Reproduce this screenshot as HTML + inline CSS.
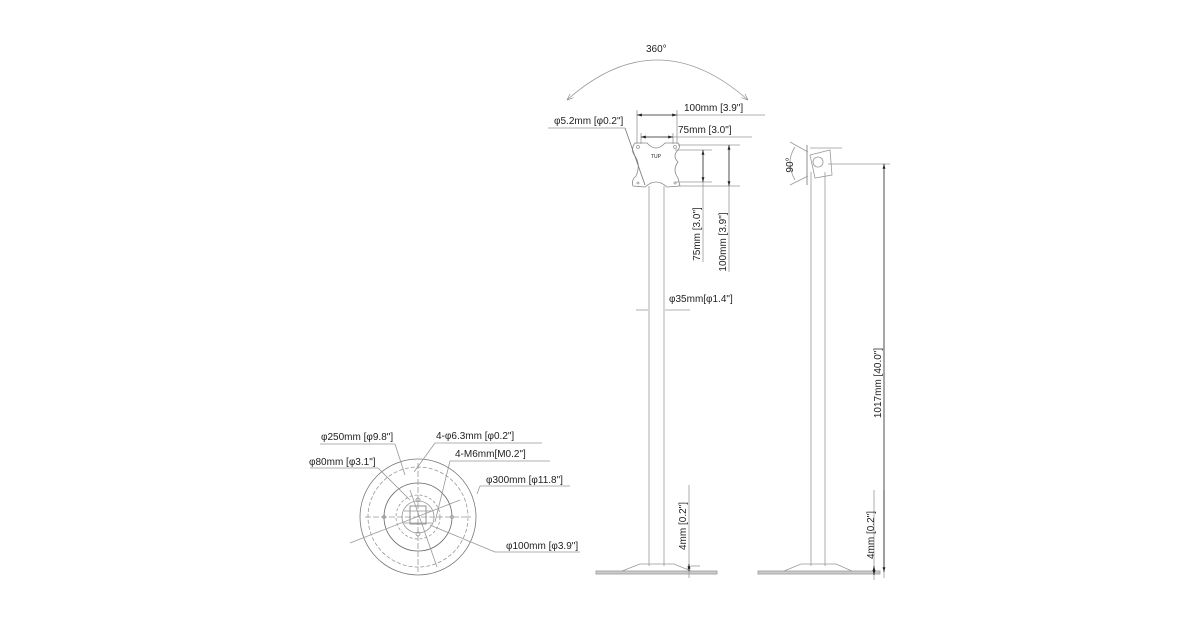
<!DOCTYPE html>
<html><head><meta charset="utf-8"><style>
html,body{margin:0;padding:0;background:#fff;width:1200px;height:630px;overflow:hidden}
svg{display:block}
text{font-family:"Liberation Sans",sans-serif;font-size:10px;fill:#222}
</style></head><body>
<svg width="1200" height="630" viewBox="0 0 1200 630">
<defs>
<marker id="a" viewBox="0 0 10 10" refX="10" refY="5" markerWidth="6" markerHeight="6" orient="auto-start-reverse"><path d="M0,2 L10,5 L0,8z" fill="#222"/></marker>
<marker id="o" viewBox="0 0 10 10" refX="10" refY="5" markerWidth="8" markerHeight="8" orient="auto-start-reverse"><path d="M0,1 L10,5 L0,9" fill="none" stroke="#888"/></marker>
</defs>
<g fill="none" stroke="#999" stroke-width="0.8">
<!-- 360 arc -->
<path d="M567,100 Q657,20 748,100" stroke="#999" marker-start="url(#o)" marker-end="url(#o)"/>
<!-- front view pole -->
<line x1="649" y1="186" x2="649" y2="566"/>
<line x1="664" y1="186" x2="664" y2="566"/>
<!-- base -->
<rect x="596" y="571" width="121" height="3" fill="#ccc" stroke="#999"/>
<path d="M622,571 L640,564 L674,564 L691,571"/>
<!-- vesa plate -->
<path d="M635,143 L647,143 Q656,153 665,143 L678,143 Q681,146 678,150 Q672,156 678,162 Q672,170 678,178 L680,186 L667,187 Q656,177 645,187 L633,186 Q631,180 636,176 Q641,165 635,156 Q630,150 635,143z" stroke="#888"/>
<circle cx="638" cy="147" r="1.5"/><circle cx="675" cy="147" r="1.5"/>
<circle cx="638" cy="183" r="1"/><circle cx="675" cy="183" r="1"/>
<!-- horizontal dims -->
<line x1="637" y1="110" x2="637" y2="144"/><line x1="677" y1="110" x2="677" y2="144"/>
<line x1="641" y1="133" x2="641" y2="144"/><line x1="673" y1="133" x2="673" y2="144"/>
<line x1="677" y1="115" x2="765" y2="115"/>
<line x1="673" y1="137" x2="752" y2="137"/>
<line x1="548" y1="128" x2="625" y2="128"/>
<line x1="625" y1="128" x2="645" y2="185" stroke="#777"/>
<!-- vertical extensions -->
<line x1="678" y1="145" x2="740" y2="145"/>
<line x1="675" y1="150" x2="712" y2="150"/>
<line x1="675" y1="182" x2="712" y2="182"/>
<line x1="678" y1="186" x2="740" y2="186"/>
<line x1="703" y1="182" x2="703" y2="262"/>
<line x1="729" y1="186" x2="729" y2="272"/>
<!-- φ35 -->
<line x1="636" y1="310" x2="648" y2="310"/>
<line x1="665" y1="310" x2="690" y2="310"/>
<!-- 4mm front -->
<line x1="689" y1="485" x2="689" y2="578"/>
<line x1="691" y1="566" x2="700" y2="566"/>
<!-- side view -->
<line x1="811" y1="172" x2="811" y2="566"/>
<line x1="825" y1="172" x2="825" y2="566"/>
<rect x="758" y="571" width="122" height="3" fill="#ccc" stroke="#999"/>
<path d="M784,571 L801,564 L836,564 L852,571"/>
<line x1="807" y1="145" x2="807" y2="185" stroke="#777"/>
<path d="M810,155 L830,150 L832,175 L815,178z"/>
<circle cx="818" cy="162" r="5"/>
<line x1="810" y1="148" x2="842" y2="148"/>
<path d="M795,147 Q785,162 795,180"/>
<line x1="790" y1="142" x2="808" y2="152"/><line x1="790" y1="185" x2="808" y2="176"/>
<line x1="828" y1="164" x2="890" y2="164"/>
<line x1="884" y1="490" x2="884" y2="578"/>
<line x1="874" y1="490" x2="874" y2="580"/>
<!-- base circle view -->
<circle cx="418" cy="517" r="58" stroke="#777"/>
<circle cx="418" cy="517" r="50" stroke-dasharray="4,2"/>
<circle cx="418" cy="517" r="34" stroke="#666"/>
<circle cx="418" cy="517" r="22" stroke-dasharray="3,2"/>
<circle cx="418" cy="517" r="16"/>
<line x1="365" y1="517" x2="471" y2="517" stroke-dasharray="6,2"/>
<line x1="418" y1="463" x2="418" y2="572" stroke-dasharray="6,2"/>
<rect x="410" y="506" width="16" height="18" stroke="#777"/>
<path d="M404,511 L432,511 M404,523 L432,523" />
<circle cx="418" cy="500" r="2"/><circle cx="418" cy="534" r="2"/>
<circle cx="384" cy="517" r="1.5"/><circle cx="452" cy="517" r="1.5"/>
<!-- base leaders -->
<line x1="320" y1="444" x2="395" y2="444"/>
<line x1="395" y1="444" x2="405" y2="475"/>
<line x1="435" y1="443" x2="542" y2="443"/>
<line x1="435" y1="443" x2="414" y2="472"/>
<line x1="450" y1="461" x2="550" y2="461"/>
<line x1="450" y1="461" x2="435" y2="522"/>
<line x1="310" y1="468" x2="378" y2="468"/>
<line x1="378" y1="468" x2="410" y2="500"/>
<line x1="480" y1="486" x2="570" y2="486"/>
<line x1="480" y1="486" x2="477" y2="494"/>
<line x1="350" y1="543" x2="460" y2="500"/>
<line x1="430" y1="525" x2="495" y2="552"/>
<line x1="495" y1="552" x2="580" y2="552"/>
<line x1="410" y1="490" x2="437" y2="567"/>
</g>
<g stroke="#222" stroke-width="0.8" fill="none">
<line x1="637" y1="115" x2="677" y2="115" marker-start="url(#a)" marker-end="url(#a)"/>
<line x1="641" y1="137" x2="673" y2="137" marker-start="url(#a)" marker-end="url(#a)"/>
<line x1="703" y1="150" x2="703" y2="182" marker-start="url(#a)" marker-end="url(#a)"/>
<line x1="729" y1="145" x2="729" y2="186" marker-start="url(#a)" marker-end="url(#a)"/>
<line x1="884" y1="164" x2="884" y2="572" marker-start="url(#a)" marker-end="url(#a)"/>
<line x1="689" y1="564" x2="689" y2="571" marker-start="url(#a)" marker-end="url(#a)"/>
<line x1="874" y1="566" x2="874" y2="575" marker-start="url(#a)" marker-end="url(#a)"/>
</g>
<text x="646" y="52">360°</text>
<text x="684" y="111">100mm [3.9"]</text>
<text x="678" y="133">75mm [3.0"]</text>
<text x="554" y="124">φ5.2mm [φ0.2"]</text>
<text x="651" y="158" style="font-size:5px">TUP</text>
<text transform="translate(700,234) rotate(-90)" text-anchor="middle">75mm [3.0"]</text>
<text transform="translate(726,242) rotate(-90)" text-anchor="middle">100mm [3.9"]</text>
<text x="669" y="302">φ35mm[φ1.4"]</text>
<text transform="translate(686,526) rotate(-90)" text-anchor="middle">4mm [0.2"]</text>
<text transform="translate(793,165) rotate(-90)" text-anchor="middle">90°</text>
<text transform="translate(881,383) rotate(-90)" text-anchor="middle">1017mm [40.0"]</text>
<text transform="translate(874,535) rotate(-90)" text-anchor="middle">4mm [0.2"]</text>
<text x="321" y="440">φ250mm [φ9.8"]</text>
<text x="436" y="439">4-φ6.3mm [φ0.2"]</text>
<text x="455" y="457">4-M6mm[M0.2"]</text>
<text x="309" y="465">φ80mm [φ3.1"]</text>
<text x="486" y="483">φ300mm [φ11.8"]</text>
<text x="506" y="549">φ100mm [φ3.9"]</text>
</svg>
</body></html>
